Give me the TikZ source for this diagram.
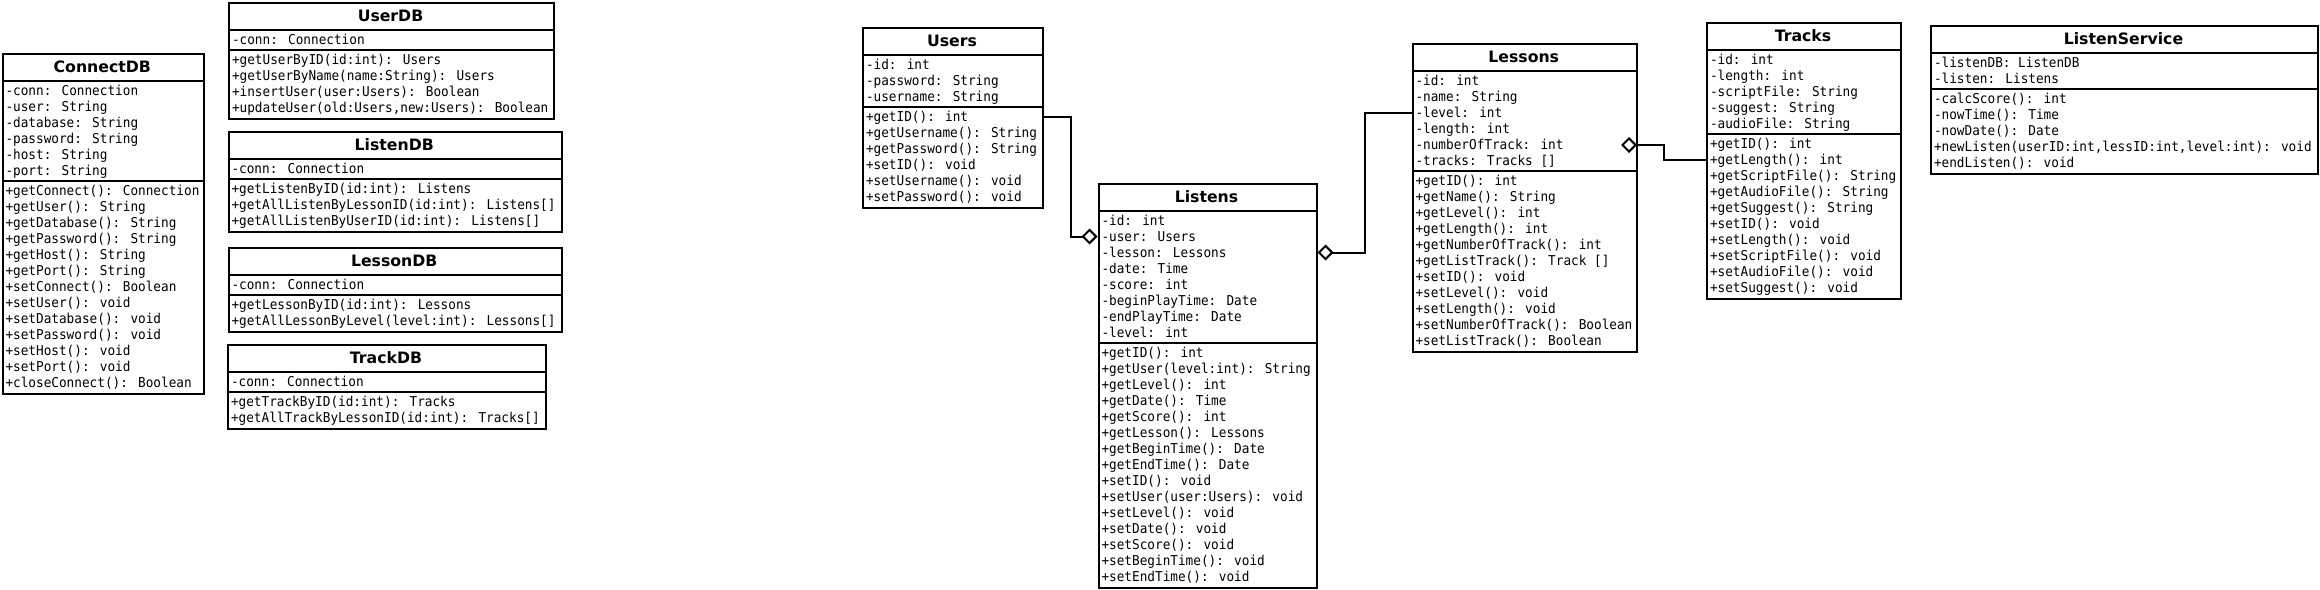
\documentclass[tikz,border=0pt]{standalone}
\usepackage{fontspec}
\newfontfamily\monof[FakeStretch=0.935]{DejaVu Sans Mono}
\newfontfamily\titlef{DejaVu Sans}
\usetikzlibrary{arrows.meta,calc}
\tikzset{
  box/.style={draw, line width=2pt, inner sep=0pt, anchor=north west},
  sepline/.style={line width=2pt},
  ctitle/.style={font=\titlef\bfseries\fontsize{15.7pt}{18pt}\selectfont, inner sep=0pt},
  row/.style={font=\monof\fontsize{13.6pt}{16pt}\selectfont, anchor=west, inner xsep=0pt, inner ysep=1pt, text height=11.5pt, text depth=2.5pt},
  conn/.style={line width=2pt},
  agg/.tip={Diamond[fill=white, length=16pt, width=16pt]}
}
% #1 name, #2 x, #3 y top, #4 width, #5 title, #6 n attrs, #7 attrs, #8 n methods, #9 methods
\newcommand\umlclass[9]{%
  \pgfmathsetmacro\yA{#3+28}%
  \pgfmathsetmacro\yB{\yA+#6*16+4}%
  \pgfmathsetmacro\yC{\yB+#8*16+4}%
  \node[box, minimum width=#4pt, minimum height={\yC pt-#3pt}] (#1) at (#2,-#3) {};
  \draw[sepline] (#2,-\yA) -- ++(#4,0);
  \draw[sepline] (#2,-\yB) -- ++(#4,0);
  \node[ctitle] (#1-t) at ({#2+#4/2},{-#3-14}) {#5};
  \foreach \s [count=\i] in {#7} {\node[row] (#1-a\i) at ({#2+3.8},{-\yA-2-16*\i+8}) {\s};}
  \foreach \s [count=\i] in {#9} {\node[row] (#1-m\i) at ({#2+3.8},{-\yB-2-16*\i+8}) {\s};}
}
\begin{document}
\begin{tikzpicture}[x=1pt, y=1pt]
\useasboundingbox (0,0) rectangle (2320,-589);

\umlclass{connectdb}{1.5}{53}{201.5}{ConnectDB}{6}{-conn: Connection,-user: String,-database: String,-password: String,-host: String,-port: String}{13}{+getConnect(): Connection,+getUser(): String,+getDatabase(): String,+getPassword(): String,+getHost(): String,+getPort(): String,+setConnect(): Boolean,+setUser(): void,+setDatabase(): void,+setPassword(): void,+setHost(): void,+setPort(): void,+closeConnect(): Boolean}

\umlclass{userdb}{228}{2}{325}{UserDB}{1}{-conn: Connection}{4}{+getUserByID(id:int): Users,+getUserByName(name:String): Users,+insertUser(user:Users): Boolean,{+updateUser(old:Users,new:Users): Boolean}}

\umlclass{listendb}{227.5}{131}{333.5}{ListenDB}{1}{-conn: Connection}{3}{+getListenByID(id:int): Listens,+getAllListenByLessonID(id:int): Listens[],+getAllListenByUserID(id:int): Listens[]}

\umlclass{lessondb}{227.5}{247}{333.5}{LessonDB}{1}{-conn: Connection}{2}{+getLessonByID(id:int): Lessons,+getAllLessonByLevel(level:int): Lessons[]}

\umlclass{trackdb}{227}{344}{318}{TrackDB}{1}{-conn: Connection}{2}{+getTrackByID(id:int): Tracks,+getAllTrackByLessonID(id:int): Tracks[]}

\umlclass{users}{862}{27}{180}{Users}{3}{-id: int,-password: String,-username: String}{6}{+getID(): int,+getUsername(): String,+getPassword(): String,+setID(): void,+setUsername(): void,+setPassword(): void}

\umlclass{listens}{1097.5}{182.5}{218}{Listens}{8}{-id: int,-user: Users,-lesson: Lessons,-date: Time,-score: int,-beginPlayTime: Date,-endPlayTime: Date,-level: int}{15}{+getID(): int,+getUser(level:int): String,+getLevel(): int,+getDate(): Time,+getScore(): int,+getLesson(): Lessons,+getBeginTime(): Date,+getEndTime(): Date,+setID(): void,+setUser(user:Users): void,+setLevel(): void,+setDate(): void,+setScore(): void,+setBeginTime(): void,+setEndTime(): void}

\umlclass{lessons}{1411.5}{43}{224.5}{Lessons}{6}{-id: int,-name: String,-level: int,-length: int,-numberOfTrack: int,-tracks: Tracks []}{11}{+getID(): int,+getName(): String,+getLevel(): int,+getLength(): int,+getNumberOfTrack(): int,+getListTrack(): Track [],+setID(): void,+setLevel(): void,+setLength(): void,+setNumberOfTrack(): Boolean,+setListTrack(): Boolean}

\umlclass{tracks}{1706}{22}{194}{Tracks}{5}{-id: int,-length: int,-scriptFile: String,-suggest: String,-audioFile: String}{10}{+getID(): int,+getLength(): int,+getScriptFile(): String,+getAudioFile(): String,+getSuggest(): String,+setID(): void,+setLength(): void,+setScriptFile(): void,+setAudioFile(): void,+setSuggest(): void}

\umlclass{listenservice}{1930}{25}{387}{ListenService}{2}{-listenDB: ListenDB,-listen: Listens}{5}{-calcScore(): int,-nowTime(): Time,-nowDate(): Date,{+newListen(userID:int,lessID:int,level:int): void},+endListen(): void}

% connectors
\coordinate (u1) at (users.east |- users-m1.west);
\coordinate (l1) at (listens.west |- listens-a2.west);
\draw[conn, -agg] (u1) -| ($(u1)!0.5!(l1)$) |- (l1);

\coordinate (l2) at (listens.east |- listens-a3.west);
\coordinate (le1) at (lessons.west |- lessons-a3.west);
\draw[conn, agg-] (l2) -| ($(l2)!0.5!(le1)$) |- (le1);

\coordinate (le2) at (lessons.east |- lessons-a5.west);
\coordinate (t1) at (tracks.west |- tracks-m2.west);
\draw[conn, agg-] ($(le2)+(-17,0)$) -- ++(43,0) |- (t1);
\end{tikzpicture}
\end{document}
